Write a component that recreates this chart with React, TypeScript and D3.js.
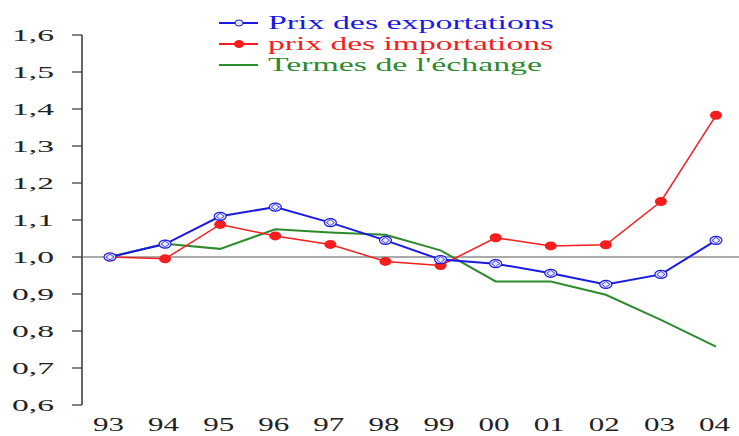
import React from 'react';
import * as d3 from 'd3';

const years = ['93', '94', '95', '96', '97', '98', '99', '00', '01', '02', '03', '04'];
const exportPrices = [1.0, 1.035, 1.11, 1.135, 1.093, 1.045, 0.993, 0.982, 0.956, 0.926, 0.953, 1.045];
const importPrices = [1.0, 0.995, 1.088, 1.057, 1.034, 0.988, 0.977, 1.052, 1.03, 1.033, 1.15, 1.383];
const termsOfTrade = [1.0, 1.036, 1.022, 1.075, 1.066, 1.06, 1.018, 0.934, 0.934, 0.898, 0.83, 0.758];
const yTicks = [0.6, 0.7, 0.8, 0.9, 1.0, 1.1, 1.2, 1.3, 1.4, 1.5, 1.6];

const BLUE = '#1a1ae6';
const RED = '#f51d1d';
const GREEN = '#2d8a2d';
const FONT = '"Liberation Serif", "DejaVu Serif", serif';

const fmt = (v: number) => v.toFixed(1).replace('.', ',');

const App = () => {
  const width = 739;
  const height = 436;

  const x = d3.scalePoint<string>().domain(years).range([110, 716]);
  const y = d3.scaleLinear().domain([0.6, 1.6]).range([405, 35]);

  const line = d3
    .line<number>()
    .x((d, i) => x(years[i]) as number)
    .y(d => y(d));

  const legend = [
    { label: 'Prix des exportations', color: BLUE, marker: 'diamond', len: 286 },
    { label: 'prix des importations', color: RED, marker: 'dot', len: 285 },
    { label: "Termes de l'échange", color: GREEN, marker: 'none', len: 274 },
  ];

  return (
    <svg width={width} height={height} style={{ position: 'absolute', left: 0, top: 0, background: '#fff' }}>
      {/* y axis */}
      <line x1={82} x2={82} y1={y(1.6)} y2={y(0.6)} stroke="#333" strokeWidth={1.5} />
      {yTicks.map(t => (
        <g key={t}>
          <line x1={72} x2={82} y1={y(t)} y2={y(t)} stroke="#333" strokeWidth={1.2} />
          <text
            x={12}
            y={y(t) + 6}
            fontFamily={FONT}
            fontSize={17}
            fill="#222"
            textLength={42}
            lengthAdjust="spacingAndGlyphs"
          >
            {fmt(t)}
          </text>
        </g>
      ))}
      {/* reference line at 1,0 */}
      <line x1={82} x2={width} y1={y(1.0)} y2={y(1.0)} stroke="#555" strokeWidth={1} />

      {/* x labels */}
      {years.map(yr => (
        <text
          key={yr}
          x={(x(yr) as number) - 17}
          y={431}
          fontFamily={FONT}
          fontSize={18}
          fill="#222"
          textLength={31}
          lengthAdjust="spacingAndGlyphs"
        >
          {yr}
        </text>
      ))}

      {/* series */}
      <path d={line(termsOfTrade) || ''} fill="none" stroke={GREEN} strokeWidth={2} />
      <path d={line(importPrices) || ''} fill="none" stroke={RED} strokeWidth={1.5} />
      {importPrices.map((v, i) => (
        <ellipse key={'r' + i} cx={x(years[i])} cy={y(v)} rx={6} ry={4.5} fill={RED} />
      ))}
      <path d={line(exportPrices) || ''} fill="none" stroke={BLUE} strokeWidth={2} />
      {exportPrices.map((v, i) => {
        const cx = x(years[i]) as number;
        const cy = y(v);
        return (
          <g key={'b' + i}>
            <ellipse cx={cx} cy={cy} rx={6} ry={4} fill="#e8e8ff" stroke={BLUE} strokeWidth={1.2} />
            <path d={`M${cx - 4},${cy} L${cx},${cy - 3} L${cx + 4},${cy} L${cx},${cy + 3} Z`} fill="none" stroke={BLUE} strokeWidth={0.8} />
          </g>
        );
      })}

      {/* legend */}
      {legend.map((l, i) => {
        const ly = 23 + i * 21;
        return (
          <g key={l.label}>
            <line x1={219} x2={258} y1={ly} y2={ly} stroke={l.color} strokeWidth={2} />
            {l.marker === 'dot' && <ellipse cx={239} cy={ly} rx={5} ry={4} fill={l.color} />}
            {l.marker === 'diamond' && (
              <ellipse cx={239} cy={ly} rx={4} ry={3} fill="#e8e8ff" stroke={l.color} strokeWidth={1} />
            )}
            <text
              x={268}
              y={ly + 6}
              fontFamily={FONT}
              fontSize={19}
              fill={l.color}
              textLength={l.len}
              lengthAdjust="spacingAndGlyphs"
            >
              {l.label}
            </text>
          </g>
        );
      })}
    </svg>
  );
};

export default App;
